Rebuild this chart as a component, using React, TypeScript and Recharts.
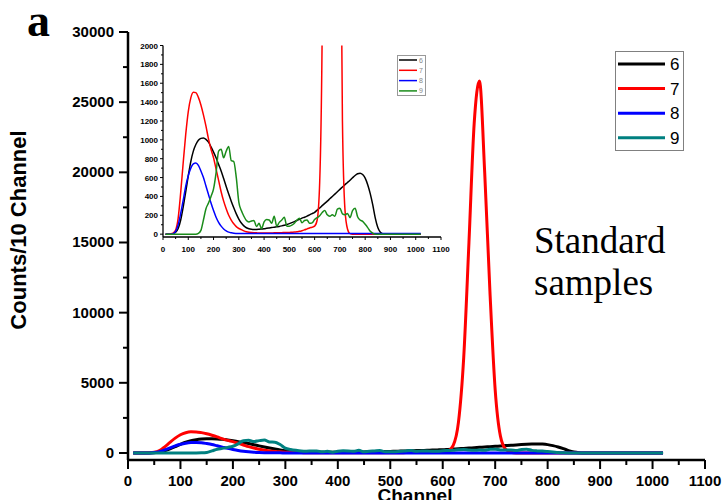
import { LineChart, Line, XAxis, YAxis, Legend } from 'recharts';

// channel grid (every 10 channels)
const channels = [
  10, 20, 30, 40, 50, 60, 70, 80, 90, 100,
  110, 120, 130, 140, 150, 160, 170, 180, 190, 200,
  210, 220, 230, 240, 250, 260, 270, 280, 290, 300,
  310, 320, 330, 340, 350, 360, 370, 380, 390, 400,
  410, 420, 430, 440, 450, 460, 470, 480, 490, 500,
  510, 520, 530, 540, 550, 560, 570, 580, 590, 600,
  610, 620, 630, 640, 650, 660, 670, 680, 690, 700,
  710, 720, 730, 740, 750, 760, 770, 780, 790, 800,
  810, 820, 830, 840, 850, 860, 870, 880, 890, 900,
  910, 920, 930, 940, 950, 960, 970, 980, 990, 1000,
  1010, 1020,
];

const sample6 = [
  0, 0, 0, 5, 20, 60, 150, 290, 450, 620,
  770, 880, 950, 995, 1015, 1020, 1005, 975, 925, 870,
  810, 740, 670, 590, 505, 425, 350, 280, 215, 160,
  118, 88, 68, 57, 52, 50, 50, 52, 55, 58,
  62, 66, 70, 74, 78, 82, 88, 95, 103, 112,
  122, 133, 145, 158, 170, 180, 192, 205, 218, 232,
  255, 278, 302, 326, 350, 375, 400, 425, 450, 475,
  500, 525, 548, 572, 598, 622, 640, 647, 632, 595,
  525, 430, 310, 170, 70, 20, 3, 0, 0, 0,
  0, 0, 0, 0, 0, 0, 0, 0, 0, 0,
  0, 0,
];

const sample7 = [
  0, 0, 3, 12, 45, 170, 440, 760, 1060, 1300,
  1445, 1505, 1500, 1450, 1370, 1265, 1145, 1010, 900, 810,
  690, 570, 450, 350, 270, 200, 150, 110, 80, 60,
  48, 35, 26, 20, 17, 15, 14, 13, 13, 13,
  13, 13, 13, 14, 14, 15, 16, 17, 18, 19,
  21, 23, 26, 30, 37, 46, 56, 66, 74, 85,
  150, 550, 2200, 6800, 15000, 23500, 26500, 20000, 11500, 4500,
  1200, 260, 55, 6, 0, 0, 0, 0, 0, 0,
  0, 0, 0, 0, 0, 0, 0, 0, 0, 0,
  0, 0, 0, 0, 0, 0, 0, 0, 0, 0,
  0, 0,
];

const sample8 = [
  0, 0, 0, 5, 30, 100, 220, 360, 510, 620,
  700, 745, 755, 730, 670, 600, 510, 420, 330, 250,
  180, 125, 85, 55, 35, 22, 15, 10, 8, 7,
  6, 6, 6, 6, 6, 6, 6, 6, 6, 6,
  6, 6, 6, 6, 7, 6, 6, 7, 6, 6,
  6, 6, 6, 6, 6, 6, 6, 6, 6, 6,
  6, 6, 6, 6, 6, 6, 6, 6, 6, 6,
  6, 6, 6, 6, 7, 7, 6, 6, 6, 6,
  6, 6, 6, 6, 6, 6, 6, 6, 6, 6,
  6, 6, 6, 6, 6, 6, 6, 6, 6, 6,
  6, 6,
];

const sample9 = [
  0, 0, 0, 0, 0, 0, 0, 0, 0, 0,
  0, 0, 0, 8, 40, 150, 270, 330, 400, 480,
  650, 880, 900, 810, 880, 930, 780, 770, 600, 340,
  250, 190, 145, 130, 140, 145, 80, 115, 60, 130,
  155, 150, 115, 190, 85, 125, 150, 180, 85, 85,
  95, 115, 150, 170, 120, 145, 150, 115, 120, 155,
  175, 195, 230, 250, 205, 190, 205, 190, 265, 275,
  215, 205, 220, 175, 250, 275, 185, 150, 135, 105,
  70, 30, 10, 0, 0, 0, 0, 0, 0, 0,
  0, 0, 0, 0, 0, 0, 0, 0, 0, 0,
  0, 0,
];

const sampleNames = ['6', '7', '8', '9'];
const sampleKeys = ['s6', 's7', 's8', 's9'];
const mainColors = ['#000000', '#ff0000', '#0000ff', '#008080'];
const insetColors = ['#000000', '#ff0000', '#0000ff', '#1a8c1a'];

const mainYTicks = [
  0, 2500, 5000, 7500, 10000, 12500, 15000, 17500, 20000, 22500, 25000, 27500, 30000,
];
const mainXTicks = [
  0, 50, 100, 150, 200, 250, 300, 350, 400, 450, 500, 550,
  600, 650, 700, 750, 800, 850, 900, 950, 1000, 1050, 1100,
];
const insetYTicks = [
  0, 100, 200, 300, 400, 500, 600, 700, 800, 900, 1000,
  1100, 1200, 1300, 1400, 1500, 1600, 1700, 1800, 1900, 2000,
];
const insetXTicks = mainXTicks;

const rows = channels.map((ch, i) => ({
  ch,
  s6: sample6[i],
  s7: sample7[i],
  s8: sample8[i],
  s9: sample9[i],
}));

const SANS = '"Liberation Sans", Arial, sans-serif';
const SERIF = '"Liberation Serif", "Times New Roman", serif';

const MainYTick = ({ x, y, payload }: any) => {
  const major = payload.value % 5000 === 0;
  return (
    <g>
      <line x1={x} x2={x - (major ? 9 : 5)} y1={y} y2={y} stroke="#000" strokeWidth={2} />
      {major && (
        <text x={x - 14} y={y + 5} textAnchor="end" fontFamily={SANS} fontWeight="bold" fontSize={15} fill="#000">
          {payload.value}
        </text>
      )}
    </g>
  );
};

const MainXTick = ({ x, y, payload }: any) => {
  const major = payload.value % 100 === 0;
  return (
    <g>
      <line x1={x} x2={x} y1={y} y2={y + (major ? 9 : 5)} stroke="#000" strokeWidth={2} />
      {major && (
        <text x={x} y={y + 26} textAnchor="middle" fontFamily={SANS} fontWeight="bold" fontSize={15} fill="#000">
          {payload.value}
        </text>
      )}
    </g>
  );
};

const InsetYTick = ({ x, y, payload }: any) => {
  const major = payload.value % 200 === 0;
  return (
    <g>
      <line x1={x} x2={x - (major ? 3 : 2)} y1={y} y2={y} stroke="#000" strokeWidth={1} />
      {major && (
        <text x={x - 5} y={y + 3} textAnchor="end" fontFamily={SANS} fontWeight="bold" fontSize={8} fill="#000">
          {payload.value}
        </text>
      )}
    </g>
  );
};

const InsetXTick = ({ x, y, payload }: any) => {
  const major = payload.value % 100 === 0;
  return (
    <g>
      <line x1={x} x2={x} y1={y} y2={y + (major ? 3 : 2)} stroke="#000" strokeWidth={1} />
      {major && (
        <text x={x} y={y + 15} textAnchor="middle" fontFamily={SANS} fontWeight="bold" fontSize={8} fill="#000">
          {payload.value}
        </text>
      )}
    </g>
  );
};

const MainLegend = ({ payload }: any) => (
  <svg width={69} height={100} style={{ display: 'block' }}>
    <rect x={0.5} y={0.5} width={68} height={99} fill="#fff" stroke="#808080" strokeWidth={1} />
    {(payload || []).map((p: any, i: number) => (
      <g key={p.value}>
        <line x1={3} x2={50} y1={13 + i * 24.6} y2={13 + i * 24.6} stroke={p.color} strokeWidth={3} />
        <text x={55} y={19 + i * 24.6} fontFamily={SANS} fontSize={17} fill="#000">
          {p.value}
        </text>
      </g>
    ))}
  </svg>
);

const InsetLegend = ({ payload }: any) => (
  <svg width={29} height={41} style={{ display: 'block' }}>
    <rect x={0.5} y={0.5} width={28} height={40} fill="#fff" stroke="#999" strokeWidth={1} />
    {(payload || []).map((p: any, i: number) => (
      <g key={p.value}>
        <line x1={2} x2={20} y1={5 + i * 10.3} y2={5 + i * 10.3} stroke={p.color} strokeWidth={1.5} />
        <text x={22} y={7.5 + i * 10.3} fontFamily={SANS} fontSize={7} fill="#888">
          {p.value}
        </text>
      </g>
    ))}
  </svg>
);

export default function App() {
  return (
    <div style={{ position: 'absolute', left: 0, top: 0, width: 725, height: 500, background: '#fff', overflow: 'hidden' }}>
      <div style={{ position: 'absolute', left: 0, top: 0 }}>
        <LineChart width={725} height={500} data={rows} margin={{ top: 32, right: 20, bottom: 0, left: 0 }}>
          <XAxis
            dataKey="ch"
            type="number"
            domain={[0, 1100]}
            ticks={mainXTicks}
            interval={0}
            height={40}
            tickSize={0}
            tickMargin={0}
            tickLine={false}
            tick={(p: any) => <MainXTick {...p} />}
            axisLine={{ stroke: '#000', strokeWidth: 2.5 }}
          />
          <XAxis
            xAxisId="top"
            orientation="top"
            dataKey="ch"
            type="number"
            domain={[0, 1100]}
            height={0}
            tick={false}
            tickLine={false}
            axisLine={{ stroke: '#000', strokeWidth: 2.5 }}
          />
          <YAxis
            type="number"
            domain={[-500, 30000]}
            ticks={mainYTicks}
            interval={0}
            width={128}
            tickSize={0}
            tickMargin={0}
            tickLine={false}
            tick={(p: any) => <MainYTick {...p} />}
            axisLine={{ stroke: '#000', strokeWidth: 2.5 }}
          />
          <YAxis
            yAxisId="right"
            orientation="right"
            type="number"
            domain={[-500, 30000]}
            width={0}
            tick={false}
            tickLine={false}
            axisLine={{ stroke: '#000', strokeWidth: 2.5 }}
          />
          <Legend
            layout="vertical"
            align="center"
            verticalAlign="middle"
            wrapperStyle={{ left: 615, top: 51, width: 69, height: 100 }}
            content={(p: any) => <MainLegend {...p} />}
          />
          {sampleKeys.map((k, i) => (
            <Line
              key={k}
              type="monotone"
              dataKey={k}
              name={sampleNames[i]}
              stroke={mainColors[i]}
              strokeWidth={3}
              dot={false}
              isAnimationActive={false}
            />
          ))}
        </LineChart>
      </div>

      <div style={{ position: 'absolute', left: 120, top: 40 }}>
        <LineChart width={330} height={220} data={rows} margin={{ top: 5.5, right: 9, bottom: 0, left: 0 }}>
          <XAxis
            dataKey="ch"
            type="number"
            domain={[0, 1100]}
            ticks={insetXTicks}
            interval={0}
            height={23}
            tickSize={0}
            tickMargin={0}
            tickLine={false}
            tick={(p: any) => <InsetXTick {...p} />}
            axisLine={{ stroke: '#000', strokeWidth: 1.3 }}
          />
          <XAxis
            xAxisId="top"
            orientation="top"
            dataKey="ch"
            type="number"
            domain={[0, 1100]}
            height={0}
            tick={false}
            tickLine={false}
            axisLine={{ stroke: '#000', strokeWidth: 1.3 }}
          />
          <YAxis
            type="number"
            domain={[-30, 2000]}
            allowDataOverflow
            ticks={insetYTicks}
            interval={0}
            width={43}
            tickSize={0}
            tickMargin={0}
            tickLine={false}
            tick={(p: any) => <InsetYTick {...p} />}
            axisLine={{ stroke: '#000', strokeWidth: 1.3 }}
          />
          <YAxis
            yAxisId="right"
            orientation="right"
            type="number"
            domain={[-30, 2000]}
            width={0}
            tick={false}
            tickLine={false}
            axisLine={{ stroke: '#000', strokeWidth: 1.3 }}
          />
          <Legend
            layout="vertical"
            align="center"
            verticalAlign="middle"
            wrapperStyle={{ left: 277, top: 15, width: 29, height: 41 }}
            content={(p: any) => <InsetLegend {...p} />}
          />
          {sampleKeys.map((k, i) => (
            <Line
              key={k}
              type="monotone"
              dataKey={k}
              name={sampleNames[i]}
              stroke={insetColors[i]}
              strokeWidth={1.5}
              dot={false}
              isAnimationActive={false}
            />
          ))}
        </LineChart>
      </div>

      <svg width={725} height={500} style={{ position: 'absolute', left: 0, top: 0, pointerEvents: 'none' }}>
        <text x={27} y={36} fontFamily={SERIF} fontWeight="bold" fontSize={46} fill="#000">a</text>
        <text
          transform="translate(26 230) rotate(-90)"
          textAnchor="middle"
          fontFamily={SANS}
          fontWeight="bold"
          fontSize={22}
          fill="#000"
        >
          Counts/10 Channel
        </text>
        <text x={415} y={502} textAnchor="middle" fontFamily={SANS} fontWeight="bold" fontSize={19} fill="#000">
          Channel
        </text>
        <text x={534} y={253} fontFamily={SERIF} fontSize={37} fill="#000">Standard</text>
        <text x={534} y={295} fontFamily={SERIF} fontSize={37} fill="#000">samples</text>
      </svg>
    </div>
  );
}
